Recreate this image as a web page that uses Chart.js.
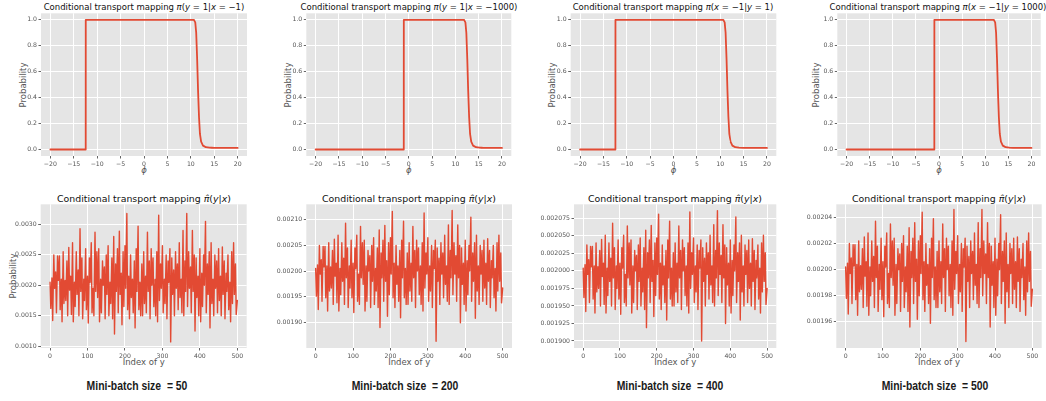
<!DOCTYPE html>
<html>
<head>
<meta charset="utf-8">
<script src="https://cdn.jsdelivr.net/npm/chart.js@4.4.1/dist/chart.umd.min.js"></script>
<style>
  body { margin: 0; background: #fff; width: 1046px; height: 401px; position: relative; overflow: hidden; font-family: "DejaVu Sans", sans-serif; }
  canvas { position: absolute; }
  .lbl { position: absolute; transform: translate(-50%, -50%); white-space: nowrap; }
  .top-ttl { font-size: 8.5px; color: #111; }
  .bot-ttl { font-size: 9.4px; color: #111; }
  .ax { font-size: 8.5px; color: #555; }
  .ylab { transform: translate(-50%, -50%) rotate(-90deg); }
  .cap { position: absolute; transform: translate(-50%, -50%) scaleX(0.77); white-space: nowrap; font-family: "Liberation Sans Narrow", "Liberation Sans", sans-serif; font-weight: bold; font-size: 13.5px; color: #1a1a1a; }
</style>
</head>
<body>

<div class="lbl top-ttl" style="left:144px; top:6.7px;">Conditional transport mapping <i>π</i>(<i>y</i> = 1|<i>x</i> = −1)</div>
<div class="lbl top-ttl" style="left:409px; top:6.7px;">Conditional transport mapping <i>π</i>(<i>y</i> = 1|<i>x</i> = −1000)</div>
<div class="lbl top-ttl" style="left:673px; top:6.7px;">Conditional transport mapping <i>π</i>(<i>x</i> = −1|<i>y</i> = 1)</div>
<div class="lbl top-ttl" style="left:938px; top:6.7px;">Conditional transport mapping <i>π</i>(<i>x</i> = −1|<i>y</i> = 1000)</div>

<div class="lbl ax ylab" style="left:22.7px; top:84.7px;">Probability</div>
<div class="lbl ax ylab" style="left:288px; top:84.7px;">Probability</div>
<div class="lbl ax ylab" style="left:552.3px; top:84.7px;">Probability</div>
<div class="lbl ax ylab" style="left:816.3px; top:84.7px;">Probability</div>

<div class="lbl ax" style="left:144px; top:170px;"><i>ϕ</i></div>
<div class="lbl ax" style="left:408.8px; top:170px;"><i>ϕ</i></div>
<div class="lbl ax" style="left:673.5px; top:170px;"><i>ϕ</i></div>
<div class="lbl ax" style="left:939px; top:170px;"><i>ϕ</i></div>

<div class="lbl bot-ttl" style="left:144px; top:198.3px;">Conditional transport mapping <i>π̂</i>(<i>y</i>|<i>x</i>)</div>
<div class="lbl bot-ttl" style="left:409px; top:198.3px;">Conditional transport mapping <i>π̂</i>(<i>y</i>|<i>x</i>)</div>
<div class="lbl bot-ttl" style="left:675px; top:198.3px;">Conditional transport mapping <i>π̂</i>(<i>y</i>|<i>x</i>)</div>
<div class="lbl bot-ttl" style="left:939px; top:198.3px;">Conditional transport mapping <i>π̂</i>(<i>y</i>|<i>x</i>)</div>

<div class="lbl ax ylab" style="left:13.3px; top:276px;">Probability</div>

<div class="lbl ax" style="left:143.7px; top:361.7px;">Index of y</div>
<div class="lbl ax" style="left:409.2px; top:361.7px;">Index of y</div>
<div class="lbl ax" style="left:675.2px; top:361.7px;">Index of y</div>
<div class="lbl ax" style="left:939px; top:361.7px;">Index of y</div>

<div class="cap" style="left:137px; top:384.5px;">Mini-batch size &nbsp;= 50</div>
<div class="cap" style="left:405px; top:384.5px;">Mini-batch size &nbsp;= 200</div>
<div class="cap" style="left:670px; top:384.5px;">Mini-batch size &nbsp;= 400</div>
<div class="cap" style="left:935px; top:384.5px;">Mini-batch size &nbsp;= 500</div>

<script>
// =================== DATA =================== //

// top row: transport probability against phi
const phiTicks = [-20, -15, -10, -5, 0, 5, 10, 15, 20];
const phiTickLabels = ['−20', '−15', '−10', '−5', '0', '5', '10', '15', '20'];
const probTicks = [0, 0.2, 0.4, 0.6, 0.8, 1.0];
const probTickLabels = ['0.0', '0.2', '0.4', '0.6', '0.8', '1.0'];

const phiYgivenX1 = [-20, -12.45, -12.44, 10.65, 10.95, 11.15, 11.35, 11.55, 11.75, 11.95, 12.2, 12.6, 13.2, 14, 15, 20];
const probYgivenX1 = [0, 0, 1, 1, 0.98, 0.9, 0.7, 0.45, 0.25, 0.12, 0.06, 0.03, 0.018, 0.014, 0.013, 0.012];

const phiYgivenX1000 = [-20, -1.08, -1.07, 11.85, 12.15, 12.35, 12.55, 12.75, 12.95, 13.15, 13.4, 13.8, 14.4, 15.2, 16, 20];
const probYgivenX1000 = [0, 0, 1, 1, 0.98, 0.9, 0.7, 0.45, 0.25, 0.12, 0.06, 0.03, 0.018, 0.014, 0.013, 0.012];

const phiXgivenY1 = [-20, -12.43, -12.42, 10.65, 10.95, 11.15, 11.35, 11.55, 11.75, 11.95, 12.2, 12.6, 13.2, 14, 15, 20];
const probXgivenY1 = [0, 0, 1, 1, 0.98, 0.9, 0.7, 0.45, 0.25, 0.12, 0.06, 0.03, 0.018, 0.014, 0.013, 0.012];

const phiXgivenY1000 = [-20, -1.01, -1.0, 11.85, 12.15, 12.35, 12.55, 12.75, 12.95, 13.15, 13.4, 13.8, 14.4, 15.2, 16, 20];
const probXgivenY1000 = [0, 0, 1, 1, 0.98, 0.9, 0.7, 0.45, 0.25, 0.12, 0.06, 0.03, 0.018, 0.014, 0.013, 0.012];

// bottom row: estimated mapping over the index of y, one series per mini-batch size
const indexTicks = [0, 100, 200, 300, 400, 500];
const indexTickLabels = ['0', '100', '200', '300', '400', '500'];

const yIndex = [
  0, 2, 5, 7, 10, 12, 15, 17, 20, 22,
  25, 27, 30, 32, 35, 37, 40, 42, 45, 47,
  50, 52, 55, 57, 60, 62, 65, 67, 70, 72,
  75, 77, 80, 82, 85, 87, 90, 92, 95, 97,
  100, 102, 105, 107, 110, 112, 115, 117, 120, 122,
  125, 127, 130, 132, 135, 137, 140, 142, 145, 147,
  150, 152, 155, 157, 160, 162, 165, 167, 170, 172,
  175, 177, 180, 182, 185, 187, 190, 192, 195, 197,
  200, 202, 205, 207, 210, 212, 215, 217, 220, 222,
  225, 227, 230, 232, 235, 237, 240, 242, 245, 247,
  250, 252, 255, 257, 260, 262, 265, 267, 270, 272,
  275, 277, 280, 282, 285, 287, 290, 292, 295, 297,
  300, 302, 305, 307, 310, 312, 315, 317, 320, 322,
  325, 327, 330, 332, 335, 337, 340, 342, 345, 347,
  350, 352, 355, 357, 360, 362, 365, 367, 370, 372,
  375, 377, 380, 382, 385, 387, 390, 392, 395, 397,
  400, 402, 405, 407, 410, 412, 415, 417, 420, 422,
  425, 427, 430, 432, 435, 437, 440, 442, 445, 447,
  450, 452, 455, 457, 460, 462, 465, 467, 470, 472,
  475, 477, 480, 482, 485, 487, 490, 492, 495, 497,
  500
];

const batch50Ticks = [0.0010, 0.0015, 0.0020, 0.0025, 0.0030];
const batch50TickLabels = ['0.0010', '0.0015', '0.0020', '0.0025', '0.0030'];
const batch50 = [
  0.00205, 0.00162, 0.00212, 0.00142, 0.0025, 0.00195, 0.00222, 0.00155, 0.00248, 0.00208,
  0.00248, 0.0016, 0.0021, 0.0014, 0.00255, 0.0017, 0.00208, 0.00175, 0.0024, 0.0015,
  0.00262, 0.00192, 0.00215, 0.00152, 0.0027, 0.0014, 0.00205, 0.00165, 0.00255, 0.00185,
  0.00225, 0.0015, 0.00293, 0.0019, 0.00245, 0.00145, 0.0021, 0.00175, 0.0026, 0.0016,
  0.00215, 0.00138, 0.00245, 0.00205, 0.0027, 0.00155, 0.00195, 0.0015, 0.00287, 0.0019,
  0.00255, 0.0018, 0.0026, 0.0014, 0.0021, 0.00155, 0.0024, 0.002, 0.0023, 0.00145,
  0.0025, 0.00185, 0.00265, 0.0015, 0.00205, 0.0017, 0.00245, 0.00145, 0.0028, 0.0012,
  0.00235, 0.0019, 0.0026, 0.00155, 0.00289, 0.00185, 0.0022, 0.00135, 0.00255, 0.00165,
  0.00265, 0.00195, 0.00318, 0.0016, 0.00215, 0.00145, 0.0025, 0.0018, 0.0021, 0.00155,
  0.0024, 0.0013, 0.0026, 0.0019, 0.00297, 0.0016, 0.00205, 0.0015, 0.00235, 0.0015,
  0.00255, 0.0017, 0.00215, 0.00155, 0.00287, 0.0019, 0.0024, 0.00145, 0.0026, 0.002,
  0.00245, 0.00165, 0.0021, 0.0015, 0.00255, 0.0014, 0.00315, 0.00175, 0.00235, 0.00195,
  0.00265, 0.00155, 0.0021, 0.0017, 0.0025, 0.00145, 0.0024, 0.00205, 0.0026, 0.00107,
  0.00245, 0.00185, 0.00225, 0.0015, 0.00255, 0.00195, 0.00235, 0.0016, 0.0027, 0.0018,
  0.0021, 0.00155, 0.0029, 0.0015, 0.0024, 0.0019, 0.00318, 0.00165, 0.00255, 0.00195,
  0.0023, 0.00155, 0.0029, 0.0019, 0.0025, 0.00125, 0.00245, 0.0018, 0.00215, 0.0015,
  0.0026, 0.0014, 0.0022, 0.00165, 0.0025, 0.002, 0.00305, 0.00155, 0.00235, 0.00185,
  0.00255, 0.0013, 0.0027, 0.0017, 0.0021, 0.0015, 0.0025, 0.00195, 0.0024, 0.00155,
  0.0026, 0.00175, 0.00215, 0.0015, 0.00263, 0.00185, 0.0024, 0.00145, 0.0022, 0.0019,
  0.0025, 0.0016, 0.00205, 0.0014, 0.00255, 0.0017, 0.0027, 0.00185, 0.00235, 0.00152,
  0.00175
];

const batch200Ticks = [0.00190, 0.00195, 0.00200, 0.00205, 0.00210];
const batch200TickLabels = ['0.00190', '0.00195', '0.00200', '0.00205', '0.00210'];
const batch200 = [
  0.002005, 0.001951, 0.002012, 0.001925, 0.00205, 0.001994, 0.002022, 0.001941, 0.002048, 0.002008,
  0.002048, 0.001948, 0.00201, 0.001922, 0.002055, 0.001961, 0.002008, 0.001967, 0.00204, 0.001935,
  0.002062, 0.00199, 0.002015, 0.001938, 0.00207, 0.001922, 0.002005, 0.001954, 0.002055, 0.00198,
  0.002025, 0.001935, 0.002093, 0.001987, 0.002045, 0.001929, 0.00201, 0.001967, 0.00206, 0.001948,
  0.002015, 0.001919, 0.002045, 0.002005, 0.00207, 0.001941, 0.001994, 0.001935, 0.002087, 0.001987,
  0.002055, 0.001974, 0.00206, 0.001922, 0.00201, 0.001941, 0.00204, 0.002, 0.00203, 0.001929,
  0.00205, 0.00198, 0.002065, 0.001935, 0.002005, 0.001961, 0.002045, 0.001929, 0.00208, 0.00189,
  0.002035, 0.001987, 0.00206, 0.001941, 0.002089, 0.00198, 0.00202, 0.001912, 0.002055, 0.001954,
  0.002065, 0.001994, 0.002116, 0.001948, 0.002015, 0.001929, 0.00205, 0.001974, 0.00201, 0.001941,
  0.00204, 0.001909, 0.00206, 0.001987, 0.002097, 0.001948, 0.002005, 0.001935, 0.002035, 0.001935,
  0.002055, 0.001961, 0.002015, 0.001941, 0.002087, 0.001987, 0.00204, 0.001929, 0.00206, 0.002,
  0.002045, 0.001954, 0.00201, 0.001935, 0.002055, 0.001922, 0.002113, 0.001967, 0.002035, 0.001994,
  0.002065, 0.001941, 0.00201, 0.001961, 0.00205, 0.001929, 0.00204, 0.002005, 0.00206, 0.001863,
  0.002045, 0.00198, 0.002025, 0.001935, 0.002055, 0.001994, 0.002035, 0.001948, 0.00207, 0.001974,
  0.00201, 0.001941, 0.00209, 0.001935, 0.00204, 0.001987, 0.002118, 0.001954, 0.002055, 0.001994,
  0.00203, 0.001941, 0.00209, 0.001987, 0.00205, 0.001899, 0.002045, 0.001974, 0.002015, 0.001935,
  0.00206, 0.001922, 0.00202, 0.001954, 0.00205, 0.002, 0.002105, 0.001941, 0.002035, 0.00198,
  0.002055, 0.001908, 0.00207, 0.001961, 0.00201, 0.001935, 0.00205, 0.001994, 0.00204, 0.001941,
  0.00206, 0.001967, 0.002015, 0.001935, 0.002063, 0.00198, 0.00204, 0.001929, 0.00202, 0.001987,
  0.00205, 0.001948, 0.002005, 0.001922, 0.002055, 0.001961, 0.00207, 0.00198, 0.002035, 0.001938,
  0.001967
];

const batch400Ticks = [0.001900, 0.001925, 0.001950, 0.001975, 0.002000, 0.002025, 0.002050, 0.002075];
const batch400TickLabels = ['0.001900', '0.001925', '0.001950', '0.001975', '0.002000', '0.002025', '0.002050', '0.002075'];
const batch400 = [
  0.002004, 0.001962, 0.002009, 0.001942, 0.002037, 0.001995, 0.002016, 0.001955, 0.002035, 0.002006,
  0.002035, 0.00196, 0.002007, 0.00194, 0.00204, 0.00197, 0.002006, 0.001975, 0.002029, 0.00195,
  0.002045, 0.001992, 0.002011, 0.001952, 0.002051, 0.00194, 0.002004, 0.001965, 0.00204, 0.001985,
  0.002018, 0.00195, 0.002068, 0.00199, 0.002033, 0.001945, 0.002007, 0.001975, 0.002044, 0.00196,
  0.002011, 0.001938, 0.002033, 0.002004, 0.002051, 0.001955, 0.001995, 0.00195, 0.002064, 0.00199,
  0.00204, 0.00198, 0.002044, 0.00194, 0.002007, 0.001955, 0.002029, 0.002, 0.002022, 0.001945,
  0.002037, 0.001985, 0.002047, 0.00195, 0.002004, 0.00197, 0.002033, 0.001945, 0.002058, 0.001919,
  0.002026, 0.00199, 0.002044, 0.001955, 0.002065, 0.001985, 0.002015, 0.001935, 0.00204, 0.001965,
  0.002047, 0.001995, 0.002081, 0.00196, 0.002011, 0.001945, 0.002037, 0.00198, 0.002007, 0.001955,
  0.002029, 0.00193, 0.002044, 0.00199, 0.002071, 0.00196, 0.002004, 0.00195, 0.002026, 0.00195,
  0.00204, 0.00197, 0.002011, 0.001955, 0.002064, 0.00199, 0.002029, 0.001945, 0.002044, 0.002,
  0.002033, 0.001965, 0.002007, 0.00195, 0.00204, 0.00194, 0.002084, 0.001975, 0.002026, 0.001995,
  0.002047, 0.001955, 0.002007, 0.00197, 0.002037, 0.001945, 0.002029, 0.002004, 0.002044, 0.0019,
  0.002033, 0.001985, 0.002018, 0.00195, 0.00204, 0.001995, 0.002026, 0.00196, 0.002051, 0.00198,
  0.002007, 0.001955, 0.002066, 0.00195, 0.002029, 0.00199, 0.002086, 0.001965, 0.00204, 0.001995,
  0.002022, 0.001955, 0.002066, 0.00199, 0.002037, 0.001925, 0.002033, 0.00198, 0.002011, 0.00195,
  0.002044, 0.00194, 0.002015, 0.001965, 0.002037, 0.002, 0.002077, 0.001955, 0.002026, 0.001985,
  0.00204, 0.00193, 0.002051, 0.00197, 0.002007, 0.00195, 0.002037, 0.001995, 0.002029, 0.001955,
  0.002044, 0.001975, 0.002011, 0.00195, 0.002046, 0.001985, 0.002029, 0.001945, 0.002015, 0.00199,
  0.002037, 0.00196, 0.002004, 0.00194, 0.00204, 0.00197, 0.002051, 0.001985, 0.002026, 0.001952,
  0.001975
];

const batch500Ticks = [0.00196, 0.00198, 0.00200, 0.00202, 0.00204];
const batch500TickLabels = ['0.00196', '0.00198', '0.00200', '0.00202', '0.00204'];
const batch500 = [
  0.002002, 0.001978, 0.002005, 0.001966, 0.00202, 0.001997, 0.002009, 0.001974, 0.002019, 0.002003,
  0.002019, 0.001977, 0.002004, 0.001965, 0.002022, 0.001983, 0.002003, 0.001985, 0.002016, 0.001971,
  0.002025, 0.001995, 0.002006, 0.001972, 0.002028, 0.001965, 0.002002, 0.00198, 0.002022, 0.001991,
  0.00201, 0.001971, 0.002037, 0.001994, 0.002018, 0.001968, 0.002004, 0.001985, 0.002024, 0.001977,
  0.002006, 0.001964, 0.002018, 0.002002, 0.002028, 0.001974, 0.001997, 0.001971, 0.002035, 0.001994,
  0.002022, 0.001988, 0.002024, 0.001965, 0.002004, 0.001974, 0.002016, 0.002, 0.002012, 0.001968,
  0.00202, 0.001991, 0.002026, 0.001971, 0.002002, 0.001983, 0.002018, 0.001968, 0.002032, 0.001956,
  0.002014, 0.001994, 0.002024, 0.001974, 0.002036, 0.001991, 0.002008, 0.001962, 0.002022, 0.00198,
  0.002026, 0.001997, 0.002044, 0.001977, 0.002006, 0.001968, 0.00202, 0.001988, 0.002004, 0.001974,
  0.002016, 0.001959, 0.002024, 0.001994, 0.002039, 0.001977, 0.002002, 0.001971, 0.002014, 0.001971,
  0.002022, 0.001983, 0.002006, 0.001974, 0.002035, 0.001994, 0.002016, 0.001968, 0.002024, 0.002,
  0.002018, 0.00198, 0.002004, 0.001971, 0.002022, 0.001965, 0.002046, 0.001985, 0.002014, 0.001997,
  0.002026, 0.001974, 0.002004, 0.001983, 0.00202, 0.001968, 0.002016, 0.002002, 0.002024, 0.001945,
  0.002018, 0.001991, 0.00201, 0.001971, 0.002022, 0.001997, 0.002014, 0.001977, 0.002028, 0.001988,
  0.002004, 0.001974, 0.002036, 0.001971, 0.002016, 0.001994, 0.002046, 0.00198, 0.002022, 0.001997,
  0.002012, 0.001974, 0.002036, 0.001994, 0.00202, 0.001956, 0.002018, 0.001988, 0.002006, 0.001971,
  0.002024, 0.001965, 0.002008, 0.00198, 0.00202, 0.002, 0.002042, 0.001974, 0.002014, 0.001991,
  0.002022, 0.001959, 0.002028, 0.001983, 0.002004, 0.001971, 0.00202, 0.001997, 0.002016, 0.001974,
  0.002024, 0.001985, 0.002006, 0.001971, 0.002025, 0.001991, 0.002016, 0.001968, 0.002008, 0.001994,
  0.00202, 0.001977, 0.002002, 0.001965, 0.002022, 0.001983, 0.002028, 0.001991, 0.002014, 0.001972,
  0.001985
];

// =================== CHART HELPERS =================== //

Chart.defaults.font.family = '"DejaVu Sans", sans-serif';

// ggplot-like grey panel behind the grid
const plotBg = {
  id: 'plotBg',
  beforeDraw(chart) {
    const { ctx, chartArea: a } = chart;
    ctx.save();
    ctx.fillStyle = '#E5E5E5';
    ctx.fillRect(a.left, a.top, a.right - a.left, a.bottom - a.top);
    ctx.restore();
  }
};

function makeAxis(min, max, ticks, labels, size, pad) {
  return {
    type: 'linear',
    min: min,
    max: max,
    afterBuildTicks: scale => { scale.ticks = ticks.map(v => ({ value: v })); },
    afterFit: scale => {
      if (scale.isHorizontal()) scale.height = size;
      else scale.width = size;
    },
    grid: { color: '#ffffff', lineWidth: 1, tickColor: '#666', tickLength: 2.5, drawTicks: true },
    border: { display: false },
    ticks: {
      color: '#555',
      font: { size: 6.2 },
      padding: pad,
      maxRotation: 0,
      autoSkip: false,
      callback: (value, i) => labels[i]
    },
    title: { display: false }
  };
}

function makePanel(p) {
  let canvas = document.createElement('canvas');
  canvas.width = p.w;
  canvas.height = p.h;
  canvas.style.left = p.left + 'px';
  canvas.style.top = p.top + 'px';
  document.body.appendChild(canvas);

  let points = p.xs.map((x, i) => ({ x: x, y: p.ys[i] }));

  new Chart(canvas, {
    type: 'line',
    data: {
      datasets: [{
        data: points,
        borderColor: '#E24A33',
        borderWidth: p.lineWidth,
        borderJoinStyle: 'round',
        borderCapStyle: 'round',
        pointRadius: 0,
        // a tiny tension keeps Chart.js off its per-pixel fast path,
        // which leaves stray ticks on the steep edges
        tension: 0.000001,
        fill: false
      }]
    },
    options: {
      responsive: false,
      animation: false,
      events: [],
      layout: { padding: { left: 0, top: p.padTop, right: p.padRight, bottom: 0 } },
      plugins: { legend: { display: false }, tooltip: { enabled: false }, title: { display: false } },
      scales: {
        x: makeAxis(p.xMin, p.xMax, p.xTicks, p.xLabels, 24, 2.5),
        y: makeAxis(p.yMin, p.yMax, p.yTicks, p.yLabels, p.yWidth, 1.5)
      }
    },
    plugins: [plotBg]
  });
}

// =================== TOP ROW =================== //

const topRow = [
  { left: 0,   w: 262, yWidth: 41,   padRight: 15,   xs: phiYgivenX1,    ys: probYgivenX1 },
  { left: 262, w: 262, yWidth: 44.3, padRight: 12.7, xs: phiYgivenX1000, ys: probYgivenX1000 },
  { left: 524, w: 260, yWidth: 46.7, padRight: 7.7,  xs: phiXgivenY1,    ys: probXgivenY1 },
  { left: 784, w: 262, yWidth: 53.3, padRight: 5.3,  xs: phiXgivenY1000, ys: probXgivenY1000 }
];

topRow.forEach(p => makePanel(Object.assign({
  top: 0, h: 180, padTop: 13.3, lineWidth: 1.8,
  xMin: -22, xMax: 22, xTicks: phiTicks, xLabels: phiTickLabels,
  yMin: -0.05, yMax: 1.05, yTicks: probTicks, yLabels: probTickLabels
}, p)));

// =================== BOTTOM ROW =================== //

const bottomRow = [
  { left: 0,   w: 262, yWidth: 40.7, padRight: 15.3,
    ys: batch50,  yMin: 0.00097, yMax: 0.00333, yTicks: batch50Ticks,  yLabels: batch50TickLabels },
  { left: 262, w: 262, yWidth: 44.3, padRight: 12,
    ys: batch200, yMin: 0.00185, yMax: 0.00213, yTicks: batch200Ticks, yLabels: batch200TickLabels },
  { left: 524, w: 260, yWidth: 50,   padRight: 7.7,
    ys: batch400, yMin: 0.00189, yMax: 0.002095, yTicks: batch400Ticks, yLabels: batch400TickLabels },
  { left: 784, w: 262, yWidth: 52.3, padRight: 4.3,
    ys: batch500, yMin: 0.00194, yMax: 0.00205, yTicks: batch500Ticks, yLabels: batch500TickLabels }
];

bottomRow.forEach(p => makePanel(Object.assign({
  top: 180, h: 192, padTop: 24.3, lineWidth: 1.4,
  xs: yIndex, xMin: -25, xMax: 525, xTicks: indexTicks, xLabels: indexTickLabels
}, p)));
</script>
</body>
</html>
